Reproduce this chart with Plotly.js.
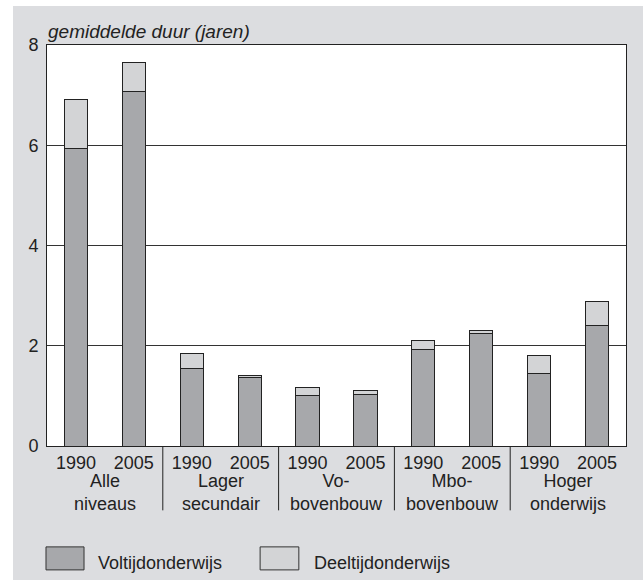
<!DOCTYPE html>
<html><head><meta charset="utf-8">
<script src="https://cdn.plot.ly/plotly-3.0.1.min.js"></script>
<style>html,body{margin:0;padding:0;background:#fff;overflow:hidden}
#chart{position:absolute;left:13px;top:6px;width:630px;height:574px}</style>
</head><body><div id="chart"></div>
<script>
// Data
const groups = ["Alle<br>niveaus", "Lager<br>secundair", "Vo-<br>bovenbouw", "Mbo-<br>bovenbouw", "Hoger<br>onderwijs"];
const years = ["1990", "2005"];
const voltijd  = [5.93, 7.07, 1.54, 1.36, 1.01, 1.03, 1.93, 2.24, 1.45, 2.41];
const deeltijd = [0.99, 0.59, 0.30, 0.04, 0.15, 0.07, 0.18, 0.07, 0.35, 0.47];
const seriesNames = ["Voltijdonderwijs", "Deeltijdonderwijs"];
const yTitle = "gemiddelde duur (jaren)";

// unique category keys, with year tick text
const cats = [], catText = [];
groups.forEach(g => years.forEach(y => { cats.push(g.replace("<br>", " ") + " " + y); catText.push(y); }));

const FONT = "Liberation Sans, Arial, sans-serif";
const colVol = "#a7a8ab", colDeel = "#d3d4d6", bg = "#dcdde0", ink = "#222";

const W = 630, H = 574;
const m = {l: 34, r: 17.3, t: 39, b: 134.3};
const pw = W - m.l - m.r, ph = H - m.t - m.b;
const px = x => (x - 13 - m.l) / pw;          // page px -> paper x
const py = y => (H - m.b - (y - 6)) / ph;      // page px -> paper y

const traces = [
  {type: "bar", name: seriesNames[0], x: cats, y: voltijd,
   marker: {color: colVol, line: {color: ink, width: 1}}, hoverinfo: "y"},
  {type: "bar", name: seriesNames[1], x: cats, y: deeltijd,
   marker: {color: colDeel, line: {color: ink, width: 1}}, hoverinfo: "y"}
];

const legendItems = [
  {x0: 46, x1: 84, tx: 96, color: colVol, name: seriesNames[0]},
  {x0: 260, x1: 298.7, tx: 311.5, color: colDeel, name: seriesNames[1]}
];

const shapes = legendItems.map(it => ({
  type: "rect", xref: "paper", yref: "paper",
  x0: px(it.x0), x1: px(it.x1), y0: py(569.5), y1: py(546.5),
  fillcolor: it.color, line: {color: "#333", width: 1}
}));
// group dividers between groups
for (let i = 1; i < groups.length; i++) {
  const xv = i * years.length - 0.5;
  shapes.push({type: "line", xref: "x", yref: "paper", x0: xv, x1: xv, y0: 0, y1: py(510),
               line: {color: ink, width: 1}});
}

const annotations = legendItems.map(it => ({
  xref: "paper", yref: "paper", x: px(it.tx), y: py(563), xanchor: "left", yanchor: "middle",
  text: it.name, showarrow: false, font: {family: FONT, size: 18, color: ink}
}));
groups.forEach((g, i) => annotations.push({
  xref: "x", yref: "paper", x: i * years.length + (years.length - 1) / 2, y: py(492.5),
  xanchor: "center", yanchor: "middle", text: g, showarrow: false,
  font: {family: FONT, size: 18, color: ink}
}));
annotations.push({
  xref: "paper", yref: "paper", x: px(46), y: py(31.5), xanchor: "left", yanchor: "middle",
  text: "<i>" + yTitle + "</i>", showarrow: false, font: {family: FONT, size: 19, color: ink}
});

const layout = {
  width: W, height: H,
  margin: m,
  paper_bgcolor: bg, plot_bgcolor: "#fff",
  barmode: "stack", bargap: 0.6,
  font: {family: FONT, size: 18, color: ink},
  xaxis: {type: "category", showline: true, linecolor: ink, linewidth: 1, mirror: true,
          ticks: "", tickvals: cats, ticktext: catText, tickangle: 0, showgrid: false,
          tickfont: {family: FONT, size: 18, color: ink}},
  yaxis: {range: [0, 8], dtick: 2, showline: true, linecolor: ink, linewidth: 1, mirror: true,
          showgrid: true, gridcolor: "#333", gridwidth: 1, zeroline: false, ticks: "",
          tickfont: {family: FONT, size: 18, color: ink}, ticklabelstandoff: 4},
  shapes: shapes,
  annotations: annotations,
  showlegend: false
};

Plotly.newPlot("chart", traces, layout, {displayModeBar: false, staticPlot: true});
</script></body></html>
